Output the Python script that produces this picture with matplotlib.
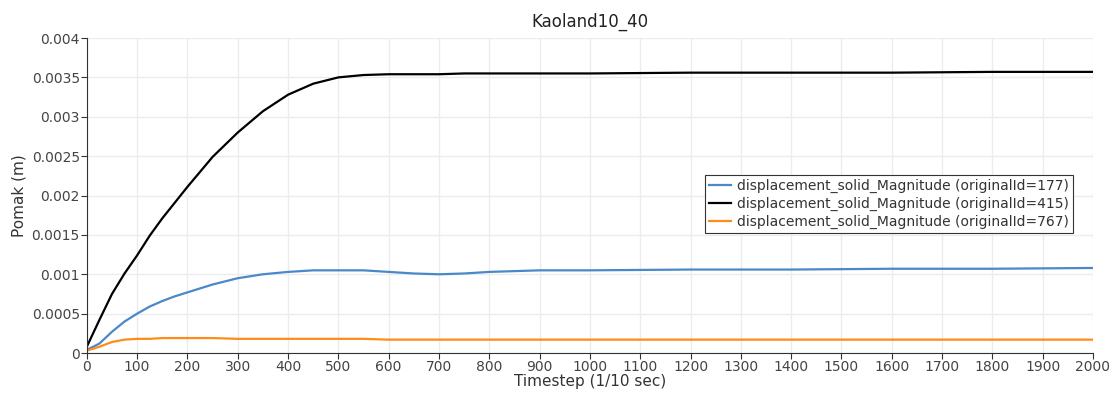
import numpy as np
import matplotlib.pyplot as plt

# values
steps = [0, 25, 50, 75, 100, 125, 150, 175, 200, 250, 300, 350, 400, 450, 500, 550, 600,
         650, 700, 750, 800, 850, 900, 1000, 1200, 1400, 1600, 1800, 2000]
disp_177 = [0.00004, 0.00012, 0.00027, 0.00040, 0.00050, 0.00059, 0.00066, 0.00072,
            0.00077, 0.00087, 0.00095, 0.00100, 0.00103, 0.00105, 0.00105, 0.00105,
            0.00103, 0.00101, 0.00100, 0.00101, 0.00103, 0.00104, 0.00105, 0.00105,
            0.00106, 0.00106, 0.00107, 0.00107, 0.00108]
disp_415 = [0.00008, 0.00042, 0.00075, 0.00101, 0.00124, 0.00149, 0.00171, 0.00191,
            0.00211, 0.00249, 0.00280, 0.00307, 0.00328, 0.00342, 0.00350, 0.00353,
            0.00354, 0.00354, 0.00354, 0.00355, 0.00355, 0.00355, 0.00355, 0.00355,
            0.00356, 0.00356, 0.00356, 0.00357, 0.00357]
disp_767 = [0.00003, 0.00008, 0.00014, 0.00017, 0.00018, 0.00018, 0.00019, 0.00019,
            0.00019, 0.00019, 0.00018, 0.00018, 0.00018, 0.00018, 0.00018, 0.00018,
            0.00017, 0.00017, 0.00017, 0.00017, 0.00017, 0.00017, 0.00017, 0.00017,
            0.00017, 0.00017, 0.00017, 0.00017, 0.00017]
labels = ["displacement_solid_Magnitude (originalId=177)",
          "displacement_solid_Magnitude (originalId=415)",
          "displacement_solid_Magnitude (originalId=767)"]
colors = ["#4a88c7", "#000000", "#ff8c1a"]

fig = plt.figure(figsize=(11.13, 3.98), dpi=100)
ax = fig.add_axes([0.078, 0.113, 0.904, 0.7915])

for vals, lab, c in zip([disp_177, disp_415, disp_767], labels, colors):
    ax.plot(steps, vals, color=c, lw=1.6, label=lab)

ax.set_xlim(0, 2000)
ax.set_ylim(0, 0.004)
ax.set_xticks(np.arange(0, 2001, 100))
ax.set_yticks(np.arange(0, 0.00401, 0.0005))
ax.set_yticklabels(["0", "0.0005", "0.001", "0.0015", "0.002", "0.0025",
                    "0.003", "0.0035", "0.004"])
ax.grid(True, color="#ececec", lw=1)
ax.set_axisbelow(True)
for s in ["top", "right"]:
    ax.spines[s].set_visible(False)
for s in ["left", "bottom"]:
    ax.spines[s].set_color("#333333")
ax.tick_params(colors="#333333", labelcolor="#444444", labelsize=10, length=4, pad=1)

ax.set_title("Kaoland10_40", fontsize=12, color="#222222", pad=8)
ax.set_xlabel("Timestep (1/10 sec)", fontsize=11, color="#333333", labelpad=0)
ax.set_ylabel("Pomak (m)", fontsize=11, color="#333333", labelpad=4)

leg = ax.legend(loc="upper right", bbox_to_anchor=(0.98, 0.565), fontsize=10,
                fancybox=False, framealpha=1, edgecolor="#333333",
                handlelength=1.6, borderpad=0.3, labelspacing=0.25,
                handletextpad=0.4, borderaxespad=0)
leg.get_frame().set_linewidth(0.8)
for t in leg.get_texts():
    t.set_color("#333333")

fig.savefig("out.png", dpi=100)
